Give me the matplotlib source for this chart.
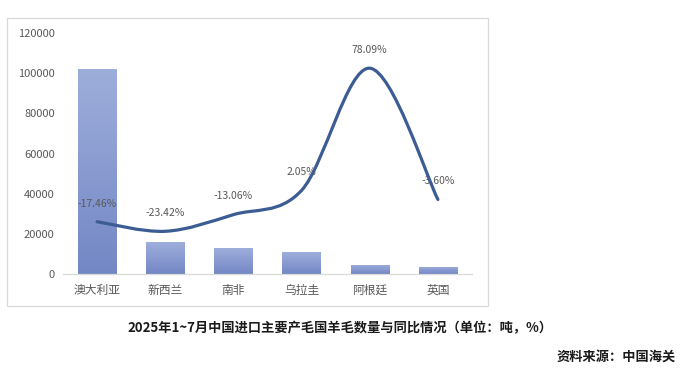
import numpy as np
import matplotlib
matplotlib.use("Agg")
import matplotlib.pyplot as plt
from matplotlib.path import Path
from matplotlib.patches import PathPatch, Rectangle
from matplotlib.colors import LinearSegmentedColormap

plt.rcParams['font.family'] = ['Noto Sans CJK SC', 'DejaVu Sans']

categories = ["澳大利亚", "新西兰", "南非", "乌拉圭", "阿根廷", "英国"]
volume = [102300, 15900, 12900, 10900, 4500, 3500]
yoy = [-17.46, -23.42, -13.06, 2.05, 78.09, -3.60]
yoy_labels = ["-17.46%", "-23.42%", "-13.06%", "2.05%", "78.09%", "-3.60%"]
y_ticks = [0, 20000, 40000, 60000, 80000, 100000, 120000]
title = "2025年1~7月中国进口主要产毛国羊毛数量与同比情况（单位：吨，%）"
source = "资料来源：中国海关"

W, H = 680, 374
fig = plt.figure(figsize=(W / 100, H / 100), dpi=100)
fig.patch.set_facecolor("white")

# outer chart frame
fig.patches.append(Rectangle((7 / W, 1 - 306 / H), 481 / W, 288 / H,
                             transform=fig.transFigure, fill=False,
                             edgecolor="#d9d9d9", linewidth=0.9))

ax = fig.add_axes([63 / W, 1 - 274 / H, 409 / W, 241 / H])
x = np.arange(len(categories))
bars = ax.bar(x, volume, width=0.56, color="none", edgecolor="none", zorder=2)

cmap = LinearSegmentedColormap.from_list("g", ["#7387c5", "#9eaedb"])
grad = np.linspace(0, 1, 256).reshape(-1, 1)
for b in bars:
    bx, by = b.get_x(), b.get_y()
    bw, bh = b.get_width(), b.get_height()
    im = ax.imshow(grad, cmap=cmap, origin="lower", aspect="auto",
                   extent=[bx, bx + bw, by, by + bh], zorder=2)
    im.set_clip_path(b)
ax.set_xlim(-0.5, len(categories) - 0.5)
ax.set_ylim(0, 120000)

ax.set_yticks(y_ticks)
ax.set_yticklabels([str(v) for v in y_ticks])
ax.set_xticks(x)
ax.set_xticklabels(categories)
ax.tick_params(axis="y", length=0, pad=6, labelsize=8, labelcolor="#595959")
ax.tick_params(axis="x", length=0, pad=7, labelsize=8.5, labelcolor="#595959")
for s in ["top", "right", "left"]:
    ax.spines[s].set_visible(False)
ax.spines["bottom"].set_color("#d9d9d9")
ax.spines["bottom"].set_linewidth(0.9)

# secondary axis for year-on-year line
ax2 = ax.twinx()
ax2.set_ylim(-50, 100)
ax2.axis("off")

pts = np.column_stack([x, yoy]).astype(float)
verts = [tuple(pts[0])]
codes = [Path.MOVETO]
n = len(pts)
for i in range(n - 1):
    p0 = pts[max(i - 1, 0)]
    p1 = pts[i]
    p2 = pts[i + 1]
    p3 = pts[min(i + 2, n - 1)]
    c1 = p1 + (p2 - p0) / 6.0
    c2 = p2 - (p3 - p1) / 6.0
    verts += [tuple(c1), tuple(c2), tuple(p2)]
    codes += [Path.CURVE4] * 3
ax2.add_patch(PathPatch(Path(verts, codes), facecolor="none",
                        edgecolor="#3c5c94", linewidth=2.3,
                        capstyle="round", zorder=5))

for xi, yi, lab in zip(x, yoy, yoy_labels):
    ax2.annotate(lab, (xi, yi), xytext=(0, 9.5), textcoords="offset points",
                 ha="center", va="bottom", fontsize=7.5, color="#595959",
                 zorder=4)

fig.text(340 / W, 1 - 328 / H, title, ha="center", va="center",
         fontsize=9.5, fontweight="bold", color="#1a1a1a")
fig.text(676 / W, 1 - 357 / H, source, ha="right", va="center",
         fontsize=9.5, fontweight="bold", color="#1a1a1a")

fig.savefig("out.png", dpi=100, facecolor="white")
